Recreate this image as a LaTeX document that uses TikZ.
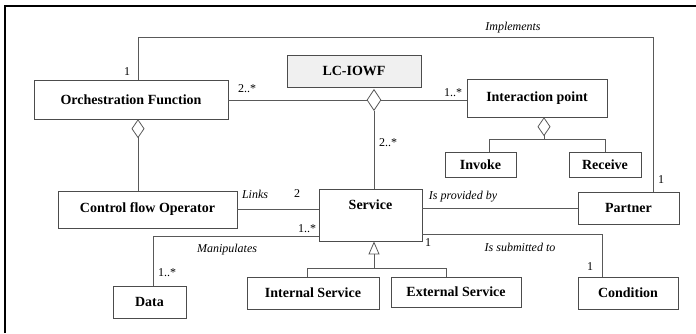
\documentclass[tikz,border=0pt]{standalone}
\usepackage{fontspec}
\setmainfont{Liberation Serif}
\usetikzlibrary{arrows.meta,shapes.geometric}

\tikzset{
  cls/.style={draw=black!70, fill=white, inner sep=0pt, font=\bfseries\fontsize{14}{16}\selectfont},
  role/.style={inner sep=0pt, font=\itshape\fontsize{12}{14}\selectfont},
  mult/.style={inner sep=0pt, font=\fontsize{12}{14}\selectfont},
  assoc/.style={draw=black!65, line width=0.8pt},
  aggtip/.style={-{Diamond[open,length=19pt,width=13pt]}},
  gentip/.style={-{Triangle[open,length=13pt,width=11pt]}}
}

\begin{document}
\begin{tikzpicture}[x=1pt,y=-1pt]
\useasboundingbox (0,0) rectangle (696,333);
\draw[line width=2pt] (5,333) -- (5,6) -- (696,6);

\node[cls, minimum width=194, minimum height=39] (orch) at (131,99.5) {Orchestration Function};
\node[cls, fill=gray!12, minimum width=134, minimum height=32] (lc) at (354,71) {LC-IOWF};
\node[cls, minimum width=140, minimum height=38] (ip) at (537,98) {Interaction point};
\node[cls, minimum width=71, minimum height=25] (inv) at (480.5,164.5) {Invoke};
\node[cls, minimum width=72, minimum height=25] (rcv) at (605,164.5) {Receive};
\node[cls, minimum width=179, minimum height=37] (cfo) at (147.5,209.5) {Control flow Operator};
\node[cls, minimum width=103, text height=20, text depth=32, anchor=north] (srv) at (370.5,189) {Service};
\node[cls, minimum width=101, minimum height=32] (prt) at (628.5,208) {Partner};
\node[cls, minimum width=73, minimum height=32] (data) at (149.5,302) {Data};
\node[cls, minimum width=132, minimum height=32] (isrv) at (313,293) {Internal Service};
\node[cls, minimum width=130, minimum height=30] (esrv) at (456,292) {External Service};
\node[cls, minimum width=100, minimum height=32] (cond) at (628,293) {Condition};
\node[diamond, draw=black!65, fill=white, line width=0.8pt, inner sep=0pt, minimum width=14, minimum height=21] (agg) at (374,100) {};

\coordinate (implL) at (138,37);
\coordinate (implR) at (653,37);
\coordinate (ofagg) at (138,0);
\coordinate (ipfork) at (544,139);
\coordinate (ipL) at (489,139);
\coordinate (ipR) at (605,139);
\coordinate (manip) at (153,236);
\coordinate (subm) at (602,234);
\coordinate (gen) at (374,268);
\coordinate (genL) at (307,268);
\coordinate (genR) at (446,268);

\draw[assoc] (orch.east |- agg) -- (agg.west);
\draw[assoc] (agg.east) -- (agg.east -| ip.west);
\draw[assoc] (agg.south) -- (agg.south |- srv.north);
\draw[assoc] (implL |- orch.north) -- (implL) -- (implR) -- (implR |- prt.north);
\draw[assoc,aggtip] (ofagg |- cfo.north) -- (ofagg |- orch.south);
\draw[assoc,aggtip] (ipfork) -- (ipfork |- ip.south);
\draw[assoc] (ipL |- inv.north) -- (ipL) -- (ipR) -- (ipR |- rcv.north);
\draw[assoc] (cfo.east) -- (cfo.east -| srv.west);
\draw[assoc] (manip -| srv.west) -- (manip) -- (manip |- data.north);
\draw[assoc] (prt.west) -- (prt.west -| srv.east);
\draw[assoc] (subm -| srv.east) -- (subm) -- (subm |- cond.north);
\draw[assoc,gentip] (gen) -- (gen |- srv.south);
\draw[assoc] (genL |- isrv.north) -- (genL) -- (genR) -- (genR |- esrv.north);

\node[role] (implLbl) at (513,28) {Implements};
\node[role] (linksLbl) at (255,194) {Links};
\node[role] (manipLbl) at (227,250) {Manipulates};
\node[role] (provLbl) at (463,197) {Is provided by};
\node[role] (submLbl) at (520,247) {Is submitted to};

\node[mult] (m1) at (127,72) {1};
\node[mult] (m2) at (247,89) {2..*};
\node[mult] (m3) at (453,93) {1..*};
\node[mult] (m4) at (388,143) {2..*};
\node[mult] (m5) at (297,194) {2};
\node[mult] (m6) at (307,229) {1..*};
\node[mult] (m7) at (167,273) {1..*};
\node[mult] (m8) at (661,180) {1};
\node[mult] (m9) at (428,243) {1};
\node[mult] (m10) at (590,267) {1};
\end{tikzpicture}
\end{document}
